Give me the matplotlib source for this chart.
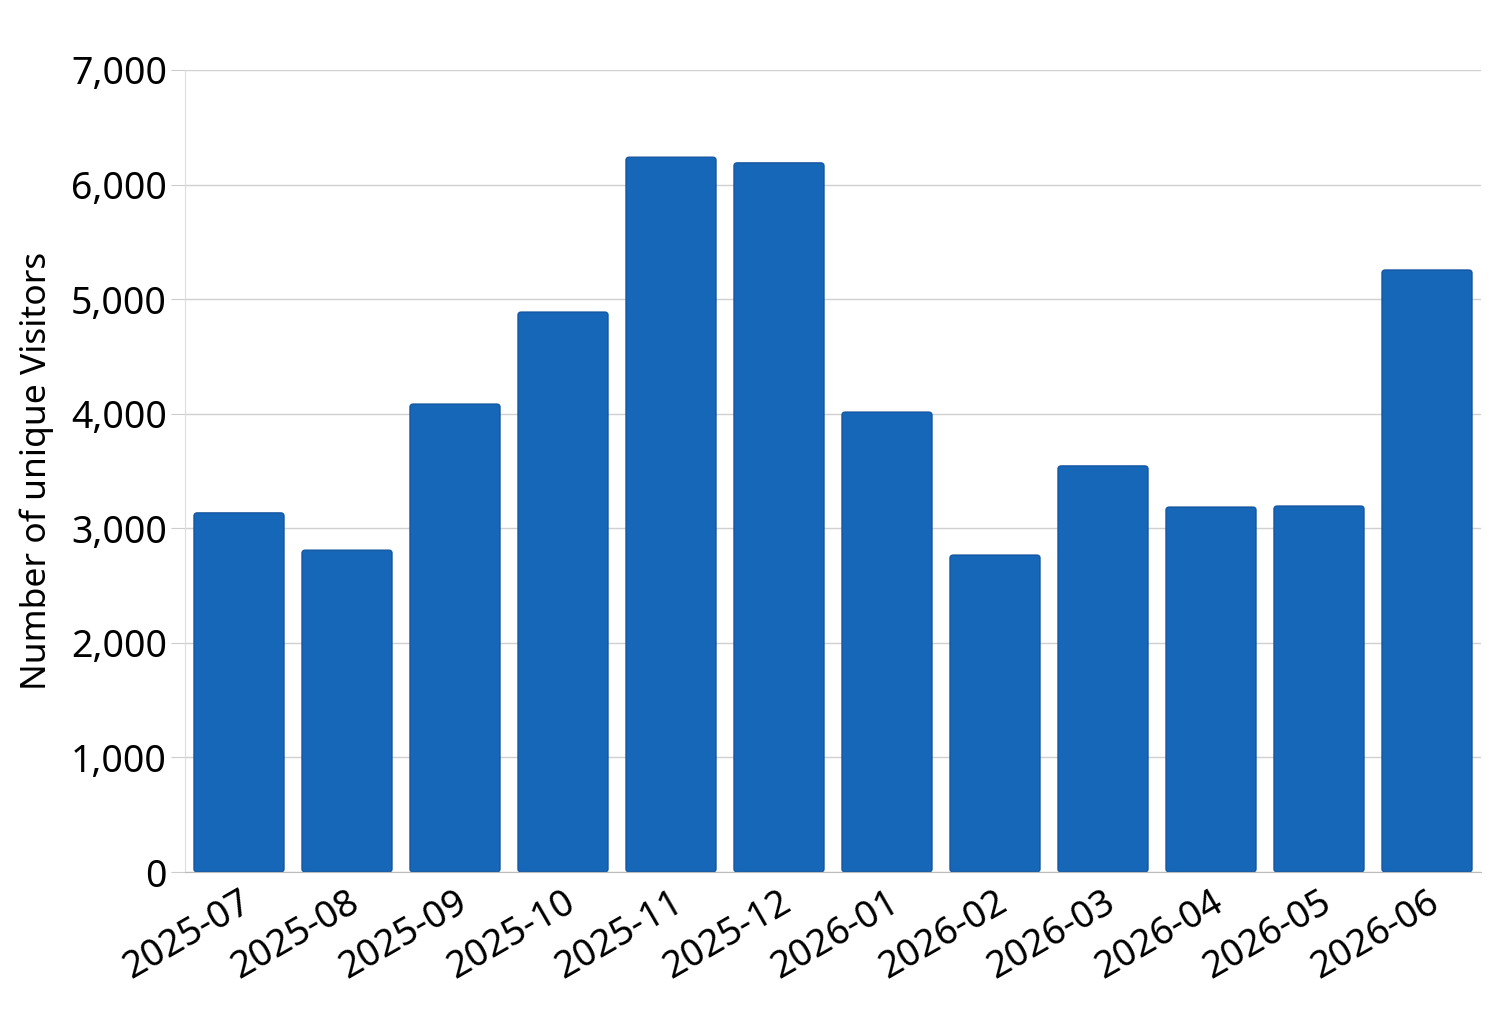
import matplotlib
matplotlib.use("Agg")
import matplotlib.pyplot as plt
from matplotlib.patches import FancyBboxPatch
from matplotlib.ticker import FuncFormatter

months = ["2025-07", "2025-08", "2025-09", "2025-10", "2025-11", "2025-12",
          "2026-01", "2026-02", "2026-03", "2026-04", "2026-05", "2026-06"]
visitors = [3135, 2810, 4085, 4888, 6240, 6190, 4015, 2767, 3545, 3186, 3195, 5255]

plt.rcParams["font.family"] = ["Noto Sans", "DejaVu Sans"]

fig = plt.figure(figsize=(14.93, 10.13), dpi=100)
ax = fig.add_axes([185 / 1493, 1 - 872 / 1013, (1481 - 185) / 1493, (872 - 70) / 1013])

bars = ax.bar(range(len(months)), visitors, width=0.835, color="#1767b9")
# swap plain rectangles for slightly rounded ones
for b in bars:
    x, y = b.get_x(), b.get_y()
    w, h = b.get_width(), b.get_height()
    b.set_visible(False)
    p = FancyBboxPatch((x, y), w, h, boxstyle="round,pad=0,rounding_size=0.03",
                       mutation_aspect=900, facecolor="#1767b9",
                       edgecolor="#0f4f99", linewidth=0.8, zorder=2)
    ax.add_patch(p)

ax.set_xlim(-0.5, len(months) - 0.5)
ax.set_ylim(0, 7000)
ax.set_yticks(range(0, 7001, 1000))
ax.yaxis.set_major_formatter(FuncFormatter(lambda v, _: f"{int(v):,}"))
ax.set_xticks(range(len(months)))
ax.set_xticklabels(months, rotation=30, ha="right", rotation_mode="anchor")

ax.grid(axis="y", color="#d0d0d0", linewidth=1)
ax.set_axisbelow(True)
for s in ["top", "right"]:
    ax.spines[s].set_visible(False)
ax.spines["left"].set_color("#dddddd")
ax.spines["bottom"].set_color("#bbbbbb")
ax.tick_params(axis="y", labelsize=27, length=10, color="#cccccc", pad=3)
ax.tick_params(axis="x", labelsize=27, length=0, pad=8)
ax.set_ylabel("Number of unique Visitors", fontsize=25.5, labelpad=12)

fig.savefig("out.png", dpi=100)
